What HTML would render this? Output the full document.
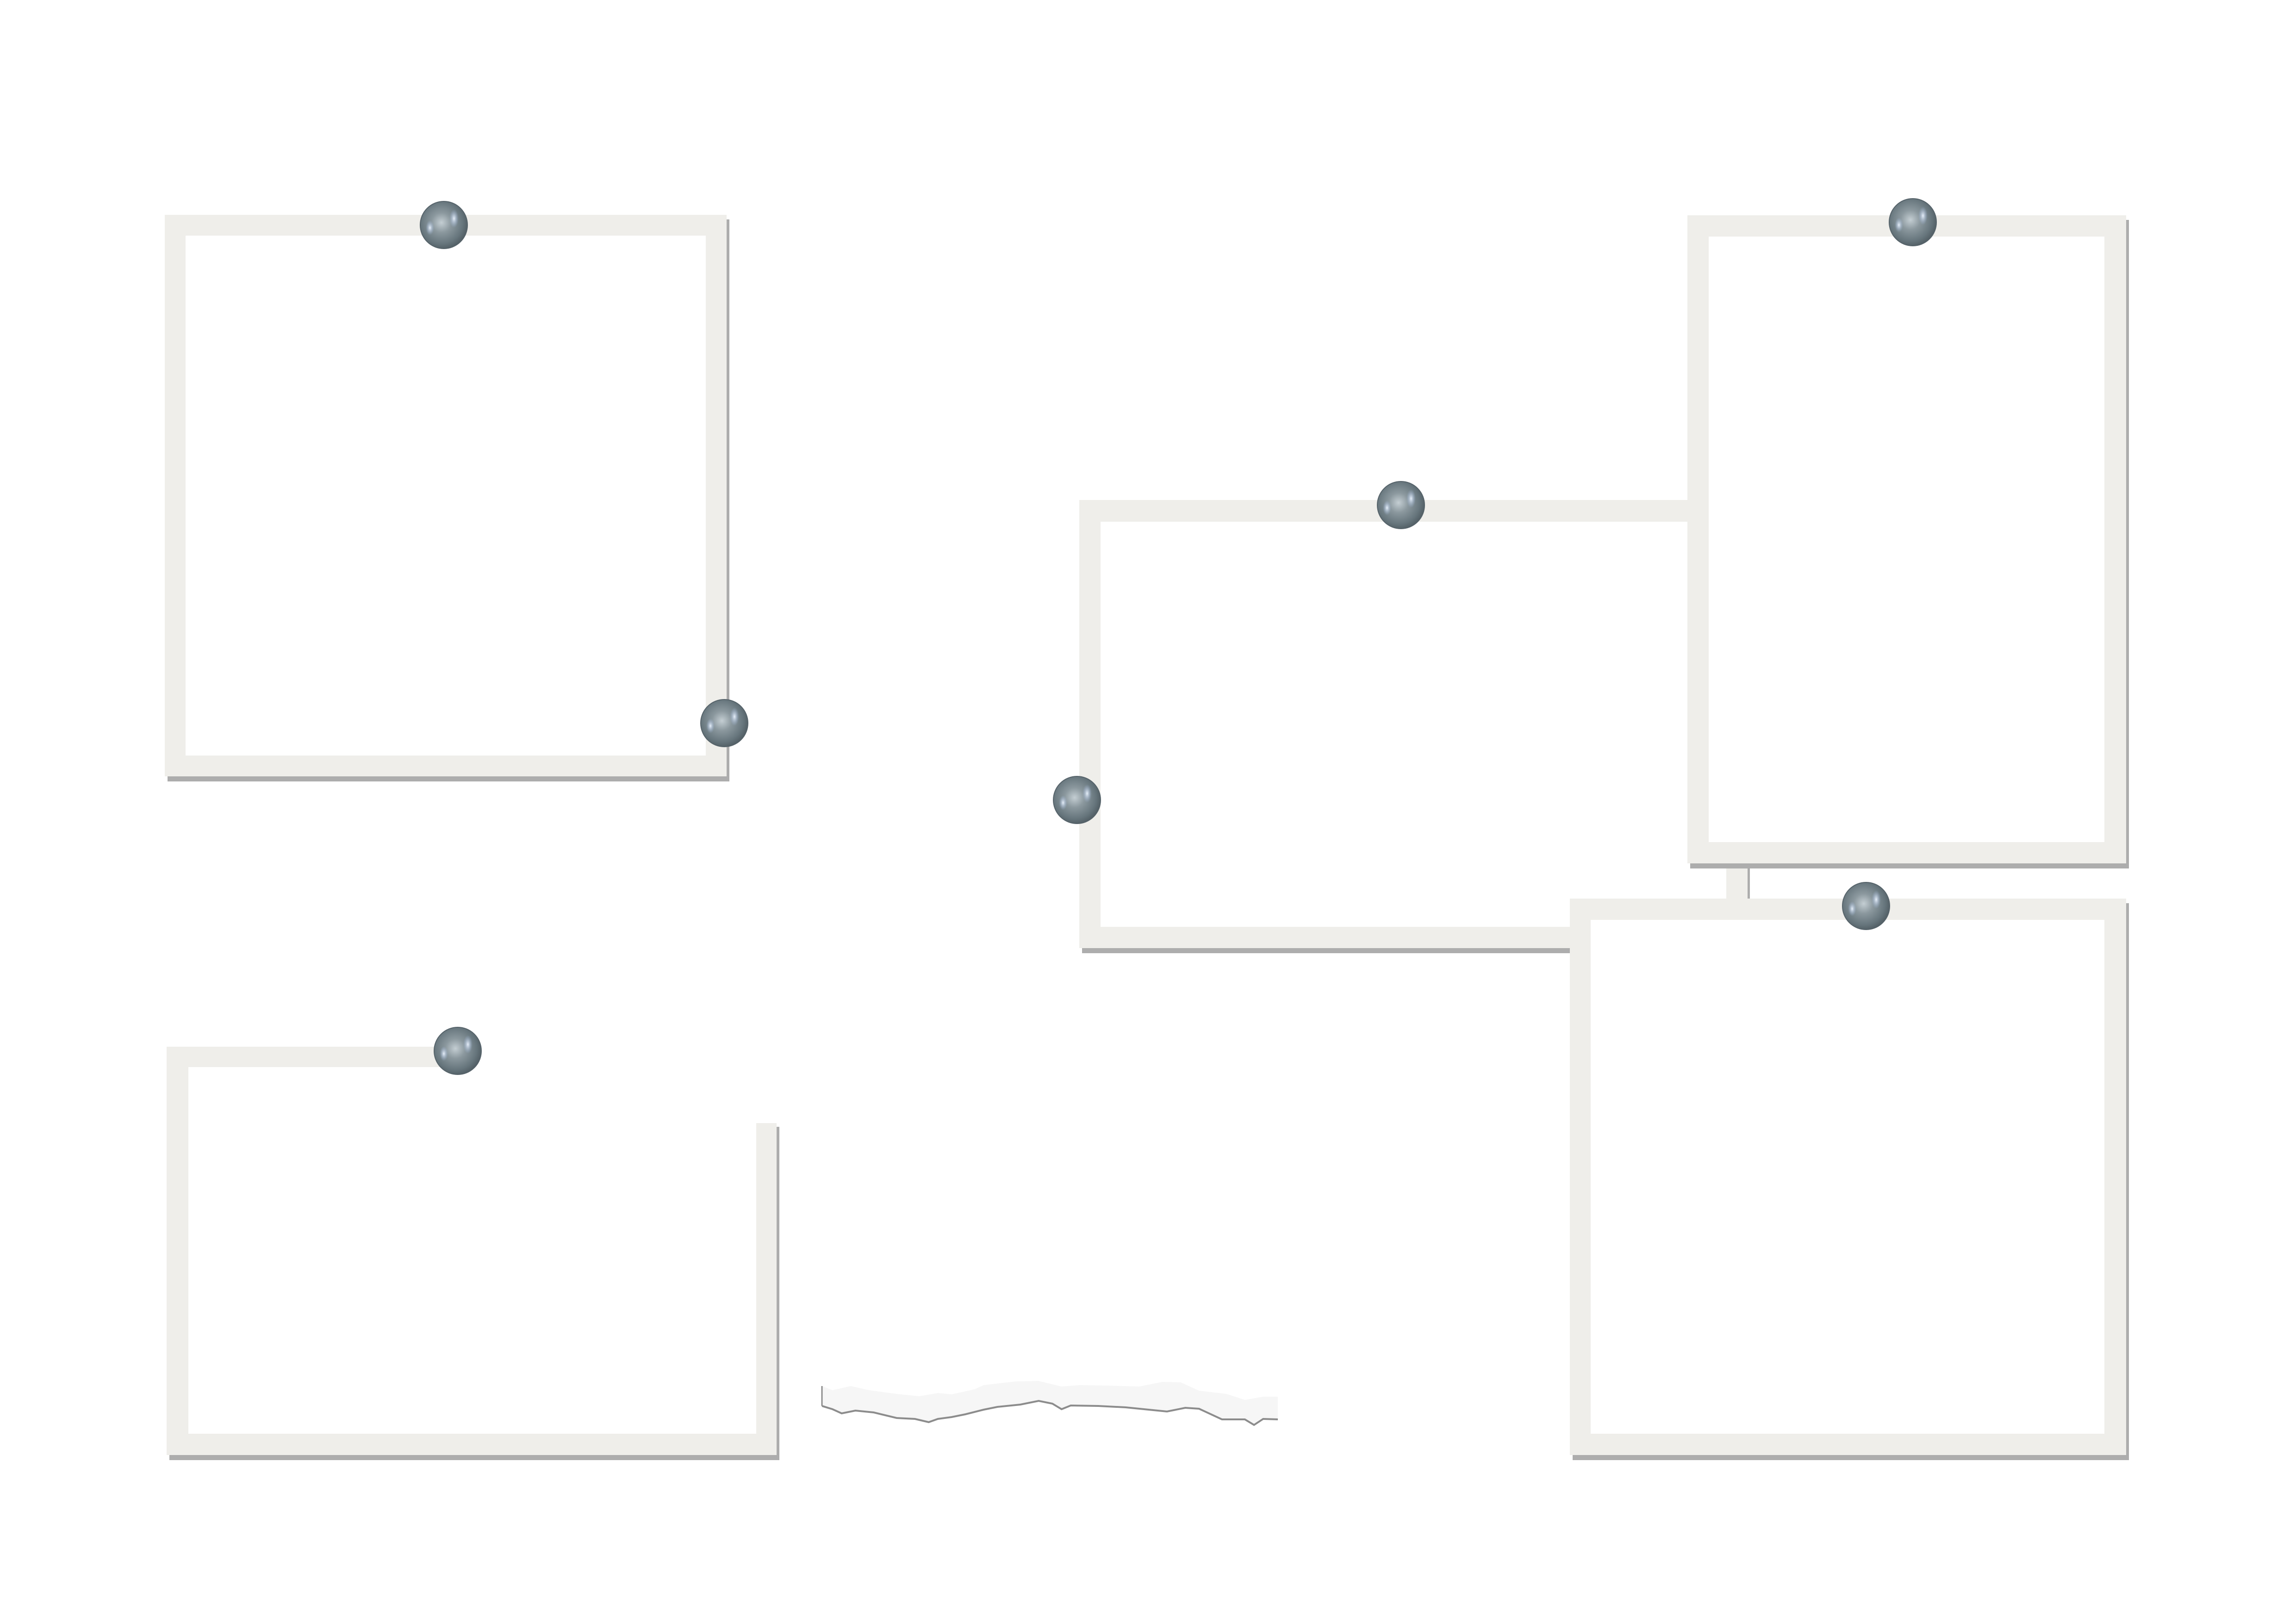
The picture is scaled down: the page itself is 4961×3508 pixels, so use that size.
<!DOCTYPE html>
<html><head><meta charset="utf-8"><style>
html,body{margin:0;padding:0;background:#fff;}
svg{display:block;}
</style></head><body>
<svg width="4961" height="3508" viewBox="0 0 4961 3508" xmlns="http://www.w3.org/2000/svg">
<defs>
<radialGradient id="pin" cx="0.45" cy="0.45" r="0.6">
<stop offset="0" stop-color="#c4ced3"/>
<stop offset="0.35" stop-color="#8b989e"/>
<stop offset="0.75" stop-color="#66757c"/>
<stop offset="1" stop-color="#4c585e"/>
</radialGradient>
<radialGradient id="hl" cx="0.5" cy="0.5" r="0.5">
<stop offset="0" stop-color="#eef6ff" stop-opacity="0.95"/>
<stop offset="1" stop-color="#9fb8e0" stop-opacity="0"/>
</radialGradient>
<g id="p">
<circle r="51" fill="url(#pin)" stroke="#56636a" stroke-width="2"/>
<ellipse cx="22" cy="-14" rx="10" ry="20" fill="url(#hl)"/>
<ellipse cx="-30" cy="6" rx="9" ry="16" fill="url(#hl)"/>
</g>
</defs>
<rect width="4961" height="3508" fill="#fff"/>

<!-- Frame 1 -->
<rect x="362" y="474" width="1214" height="1214" fill="#adadad"/>
<rect x="356" y="464" width="1214" height="1213" fill="#efeeea"/>
<rect x="401" y="509" width="1124" height="1123" fill="#fff"/>

<!-- Frame 2 (open) -->
<rect x="366" y="3143" width="1318" height="11" fill="#adadad"/>
<rect x="1678" y="2434" width="6" height="720" fill="#adadad"/>
<path d="M360,2261 L951,2261 L951,2305 L407,2305 L407,3097 L1634,3097 L1634,2426 L1678,2426 L1678,3143 L360,3143 Z" fill="#efeeea"/>

<!-- Frame 3 -->
<rect x="2338" y="1090" width="1330" height="969" fill="#adadad"/>
<rect x="2332" y="1080" width="1336" height="968" fill="#efeeea"/>
<rect x="2378" y="1127" width="1290" height="875" fill="#fff"/>

<!-- connector post -->
<rect x="3730" y="1860" width="51" height="85" fill="#adadad"/>
<rect x="3730" y="1860" width="46" height="85" fill="#efeeea"/>

<!-- Frame 4 -->
<rect x="3652" y="475" width="948" height="1401" fill="#adadad"/>
<rect x="3646" y="465" width="948" height="1400" fill="#efeeea"/>
<rect x="3692" y="511" width="855" height="1308" fill="#fff"/>

<!-- Frame 5 -->
<rect x="3398" y="1951" width="1202" height="1203" fill="#adadad"/>
<rect x="3392" y="1941" width="1202" height="1202" fill="#efeeea"/>
<rect x="3437" y="1987" width="1110" height="1110" fill="#fff"/>

<!-- torn paper -->
<g transform="translate(1776,0) scale(0.99,1) translate(-1777,0)">
<path d="M1777,2994 L1800,3003 L1840,2994 L1880,3003 L1940,3011 L1990,3016 L2030,3009 L2060,3012 L2110,3001 L2130,2992 L2200,2984 L2250,2983 L2300,2995 L2340,2992 L2400,2993 L2470,2995 L2520,2985 L2560,2986 L2600,3004 L2660,3011 L2700,3024 L2740,3017 L2772,3017 L2772,3066 L2740,3065 L2720,3078 L2700,3066 L2650,3066 L2600,3043 L2570,3041 L2530,3049 L2480,3044 L2440,3040 L2380,3037 L2320,3036 L2300,3044 L2280,3032 L2250,3026 L2210,3034 L2160,3039 L2130,3045 L2090,3055 L2060,3061 L2030,3065 L2010,3072 L1980,3065 L1940,3063 L1890,3051 L1850,3047 L1820,3053 L1800,3044 L1777,3037 Z" fill="#f6f6f6"/>
<path d="M1777,3037 L1800,3044 L1820,3053 L1850,3047 L1890,3051 L1940,3063 L1980,3065 L2010,3072 L2030,3065 L2060,3061 L2090,3055 L2130,3045 L2160,3039 L2210,3034 L2250,3026 L2280,3032 L2300,3044 L2320,3036 L2380,3037 L2440,3040 L2480,3044 L2530,3049 L2570,3041 L2600,3043 L2650,3066 L2700,3066 L2720,3078 L2740,3065 L2772,3066" fill="none" stroke="#8c8c8c" stroke-width="4"/>
<line x1="1777" y1="2994" x2="1777" y2="3037" stroke="#8c8c8c" stroke-width="3"/>
</g>

<!-- pins -->
<use href="#p" x="959" y="486"/>
<use href="#p" x="1565" y="1562"/>
<use href="#p" x="989" y="2270"/>
<use href="#p" x="3027" y="1091"/>
<use href="#p" x="2327" y="1728"/>
<use href="#p" x="4133" y="480"/>
<use href="#p" x="4032" y="1957"/>
</svg>
</body></html>
